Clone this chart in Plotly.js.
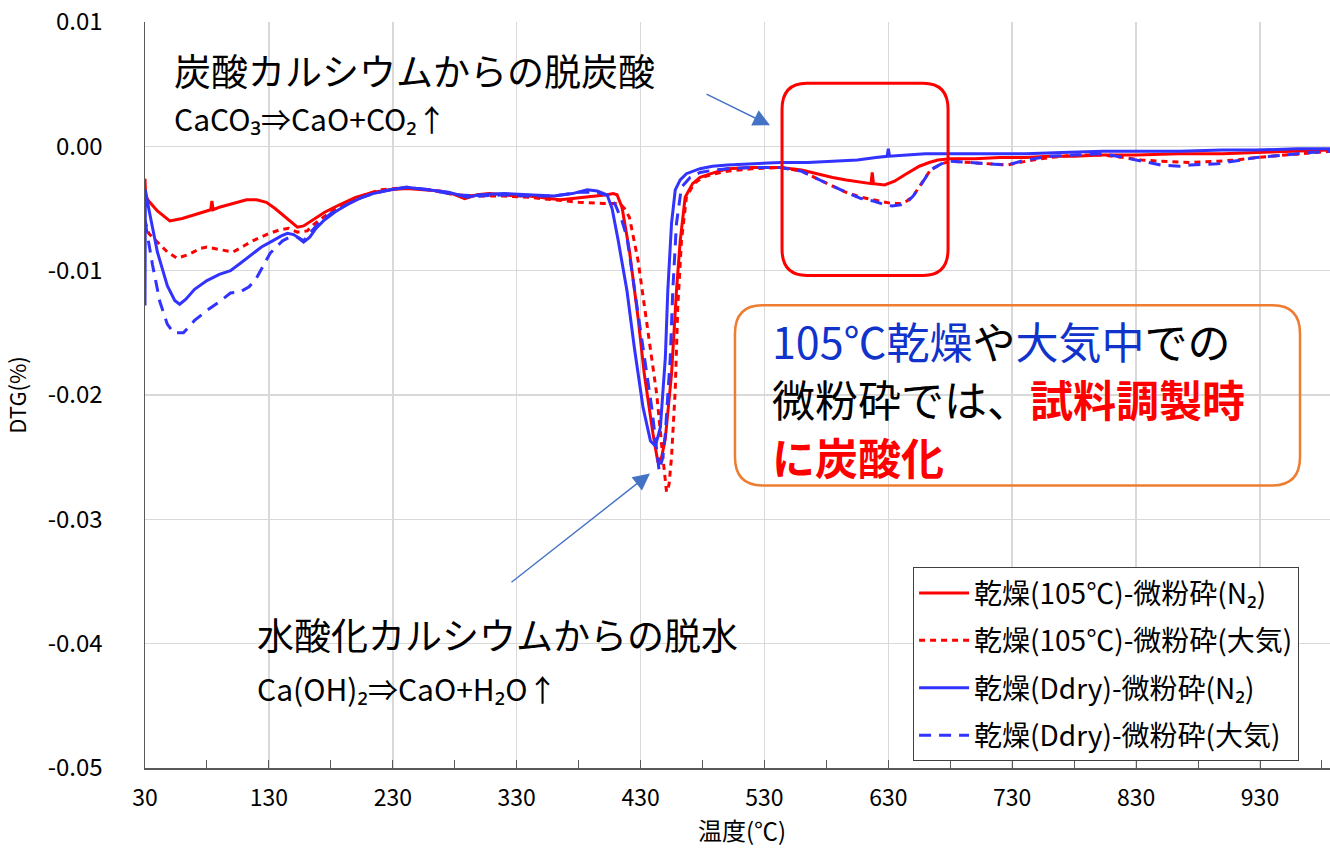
<!DOCTYPE html>
<html>
<head>
<meta charset="utf-8">
<script src="https://cdn.plot.ly/plotly-3.0.1.min.js"></script>
<style>
html,body{margin:0;padding:0;background:#fff;}
#chart{width:1330px;height:850px;}
</style>
</head>
<body>
<div id="chart"></div>
<script>
// ---------- data ----------
const seriesNames = [
  "乾燥(105℃)-微粉砕(N₂)",
  "乾燥(105℃)-微粉砕(大気)",
  "乾燥(Ddry)-微粉砕(N₂)",
  "乾燥(Ddry)-微粉砕(大気)"
];
const xAxisTitle = "温度(℃)";
const yAxisTitle = "DTG(%)";

const temp_red_n2 = [30,30.5,33,40,50,60,70,80,83,84,85,90,100,112,120,128,135,141,148,153,158,166,175,187,200,214,228,241,255,268,278,288,298,308,320,330,340,349,357,365,375,385,395,403,408,411,415,421,428,433,440,444,447,450,455,459,462,466,472,478,490,500,520,543,560,572,585,596,608,616,617,618,627,635,643,650,655,663,670,680,700,720,741,760,780,803,830,865,900,927,960,987];
const dtg_red_n2 = [-0.0026,-0.0040,-0.0044,-0.0052,-0.0060,-0.0058,-0.0055,-0.0052,-0.0051,-0.0044,-0.0051,-0.0049,-0.0046,-0.0043,-0.0043,-0.0045,-0.0050,-0.0055,-0.0061,-0.0065,-0.0064,-0.0059,-0.0053,-0.0047,-0.0041,-0.0037,-0.0035,-0.0034,-0.0035,-0.0036,-0.0038,-0.0042,-0.0039,-0.0038,-0.0039,-0.0040,-0.0040,-0.0041,-0.0042,-0.0043,-0.0042,-0.0041,-0.0040,-0.0039,-0.0038,-0.0039,-0.0049,-0.0084,-0.0138,-0.0183,-0.0231,-0.0254,-0.0250,-0.0235,-0.0183,-0.0116,-0.0076,-0.0041,-0.0030,-0.0025,-0.0021,-0.0018,-0.0017,-0.0017,-0.0019,-0.0022,-0.0025,-0.0027,-0.0029,-0.0030,-0.0021,-0.0030,-0.0031,-0.0028,-0.0023,-0.0019,-0.0016,-0.0013,-0.0011,-0.0010,-0.0010,-0.0009,-0.0009,-0.0008,-0.0008,-0.0007,-0.0007,-0.0006,-0.0006,-0.0005,-0.0004,-0.0003];

const temp_red_air = [30,33,40,48,56,65,75,80,90,101,110,117,128,139,146,153,161,166,174,183,193,205,220,241,260,280,300,320,340,360,380,400,413,417,421,428,435,443,448,451,453,455,458,460,463,467,473,480,490,500,520,543,560,572,585,596,608,618,627,633,640,645,650,655,660,664,673,680,695,710,726,741,760,780,803,820,834,850,874,896,910,927,950,970,987];
const dtg_red_air = [-0.0060,-0.0070,-0.0077,-0.0085,-0.0090,-0.0087,-0.0082,-0.0081,-0.0083,-0.0085,-0.0080,-0.0076,-0.0071,-0.0067,-0.0066,-0.0069,-0.0068,-0.0063,-0.0057,-0.0051,-0.0046,-0.0040,-0.0035,-0.0033,-0.0035,-0.0039,-0.0040,-0.0040,-0.0041,-0.0043,-0.0045,-0.0046,-0.0046,-0.0050,-0.0057,-0.0092,-0.0142,-0.0199,-0.0250,-0.0278,-0.0272,-0.0250,-0.0196,-0.0130,-0.0076,-0.0041,-0.0030,-0.0025,-0.0022,-0.0020,-0.0018,-0.0017,-0.0020,-0.0026,-0.0032,-0.0037,-0.0041,-0.0043,-0.0045,-0.0046,-0.0046,-0.0044,-0.0040,-0.0033,-0.0025,-0.0019,-0.0014,-0.0012,-0.0013,-0.0014,-0.0015,-0.0012,-0.0009,-0.0007,-0.0007,-0.0009,-0.0011,-0.0012,-0.0013,-0.0012,-0.0011,-0.0009,-0.0007,-0.0005,-0.0004];

const temp_blue_n2 = [30,30.3,33,40,48,54,58,63,70,80,90,99,107,115,124,133,140,145,150,153,158,163,168,174,183,193,205,214,228,241,260,275,290,300,320,340,360,375,387,395,403,407,412,419,425,432,438,442,446,450,452,455,458,462,467,478,488,500,520,543,565,587,605,620,629,630,631,645,660,680,710,741,770,803,835,865,900,927,960,987];
const dtg_blue_n2 = [-0.0128,-0.0035,-0.0050,-0.0085,-0.0112,-0.0124,-0.0127,-0.0123,-0.0115,-0.0108,-0.0103,-0.0100,-0.0094,-0.0088,-0.0081,-0.0076,-0.0072,-0.0070,-0.0071,-0.0073,-0.0077,-0.0073,-0.0066,-0.0060,-0.0053,-0.0047,-0.0041,-0.0038,-0.0035,-0.0033,-0.0035,-0.0037,-0.0041,-0.0039,-0.0038,-0.0039,-0.0040,-0.0038,-0.0035,-0.0036,-0.0039,-0.0050,-0.0076,-0.0116,-0.0162,-0.0210,-0.0237,-0.0241,-0.0226,-0.0170,-0.0116,-0.0062,-0.0035,-0.0027,-0.0022,-0.0018,-0.0016,-0.0015,-0.0014,-0.0013,-0.0013,-0.0012,-0.0011,-0.0009,-0.0008,-0.0002,-0.0008,-0.0007,-0.0006,-0.0006,-0.0006,-0.0006,-0.0005,-0.0004,-0.0004,-0.0004,-0.0003,-0.0003,-0.0002,-0.0002];

const temp_blue_air = [30,32,36,42,48,53,61,70,80,90,99,107,114,120,126,131,141,147,153,158,163,170,180,187,200,214,228,241,260,280,300,320,340,360,380,395,405,410,415,419,425,432,439,445,448,450,454,456,459,463,470,478,490,500,520,543,560,572,585,596,608,618,627,633,640,645,650,655,660,664,673,680,695,710,726,741,760,780,803,820,834,850,865,874,896,910,927,950,970,987];
const dtg_blue_air = [-0.0060,-0.0073,-0.0095,-0.0125,-0.0143,-0.0150,-0.0150,-0.0140,-0.0132,-0.0125,-0.0118,-0.0117,-0.0113,-0.0106,-0.0095,-0.0086,-0.0076,-0.0073,-0.0073,-0.0076,-0.0070,-0.0062,-0.0054,-0.0050,-0.0043,-0.0038,-0.0035,-0.0033,-0.0035,-0.0039,-0.0040,-0.0039,-0.0040,-0.0040,-0.0037,-0.0037,-0.0040,-0.0048,-0.0060,-0.0073,-0.0116,-0.0162,-0.0210,-0.0261,-0.0250,-0.0231,-0.0170,-0.0116,-0.0062,-0.0033,-0.0025,-0.0021,-0.0019,-0.0018,-0.0017,-0.0017,-0.0020,-0.0026,-0.0032,-0.0037,-0.0042,-0.0044,-0.0047,-0.0048,-0.0047,-0.0045,-0.0040,-0.0033,-0.0025,-0.0019,-0.0014,-0.0012,-0.0013,-0.0014,-0.0015,-0.0011,-0.0008,-0.0007,-0.0006,-0.0009,-0.0012,-0.0015,-0.0016,-0.0015,-0.0014,-0.0012,-0.0009,-0.0007,-0.0005,-0.0004];

const xTickLabels = ["30","130","230","330","430","530","630","730","830","930"];
const xTickVals = [30,130,230,330,430,530,630,730,830,930];
const yTickVals = [0.01,0,-0.01,-0.02,-0.03,-0.04,-0.05];
const yTickLabels = ["0.01","0.00","-0.01","-0.02","-0.03","-0.04","-0.05"];

// ---------- styling ----------
const FONT = "'Noto Sans CJK JP', 'Noto Sans', sans-serif";
const RED = "#FF0000";
const BLUE = "#3333FF";

function mk(x, y, name, color, dash, group) {
  return {
    type: "scatter", mode: "lines", x: x, y: y, name: name,
    legendgroup: group,
    line: {color: color, width: 3, dash: dash}
  };
}
const traces = [
  mk(temp_red_n2, dtg_red_n2, seriesNames[0], RED, "solid", "g1"),
  mk(temp_red_air, dtg_red_air, seriesNames[1], RED, "6px,5px", "g2"),
  mk(temp_blue_n2, dtg_blue_n2, seriesNames[2], BLUE, "solid", "g3"),
  mk(temp_blue_air, dtg_blue_air, seriesNames[3], BLUE, "12px,8px", "g4")
];

function roundedRect(x0, x1, y0, y1, rx, ry) {
  return "M" + (x0 + rx) + "," + y1 +
    " L" + (x1 - rx) + "," + y1 +
    " Q" + x1 + "," + y1 + " " + x1 + "," + (y1 - ry) +
    " L" + x1 + "," + (y0 + ry) +
    " Q" + x1 + "," + y0 + " " + (x1 - rx) + "," + y0 +
    " L" + (x0 + rx) + "," + y0 +
    " Q" + x0 + "," + y0 + " " + x0 + "," + (y0 + ry) +
    " L" + x0 + "," + (y1 - ry) +
    " Q" + x0 + "," + y1 + " " + (x0 + rx) + "," + y1 + " Z";
}

const layout = {
  width: 1330, height: 850,
  margin: {l: 145, r: 0, t: 22, b: 82},
  paper_bgcolor: "#fff", plot_bgcolor: "#fff",
  font: {family: FONT, color: "#000", size: 22},
  showlegend: true,
  xaxis: {
    range: [30, 986.5],
    tickmode: "array", tickvals: xTickVals, ticktext: xTickLabels,
    showgrid: true, gridcolor: "#D9D9D9", gridwidth: 1.5,
    showline: true, linecolor: "#595959", linewidth: 1.5,
    ticks: "inside", ticklen: 8, tickcolor: "#595959",
    minor: {ticks: "inside", ticklen: 8, tickcolor: "#595959", tick0: 80, dtick: 100, showgrid: false},
    ticklabelstandoff: 9,
    tickfont: {size: 23, family: FONT},
    zeroline: false
  },
  yaxis: {
    range: [-0.05, 0.01],
    tickmode: "array", tickvals: yTickVals, ticktext: yTickLabels,
    showgrid: true, gridcolor: "#D9D9D9", gridwidth: 1.5,
    showline: true, linecolor: "#595959", linewidth: 1.5,
    ticks: "", zeroline: false,
    ticklabelstandoff: 36,
    tickfont: {size: 24, family: FONT},
    title: {text: yAxisTitle, font: {size: 22, family: FONT}, standoff: 16}
  },
  legend: {
    x: 0.648, y: 0.2694, xanchor: "left", yanchor: "top",
    bgcolor: "#fff", bordercolor: "#404040", borderwidth: 1.2,
    font: {size: 28, family: FONT},
    itemwidth: 50, traceorder: "grouped", tracegroupgap: 8
  },
  shapes: [
    {type: "path", xref: "x", yref: "y", layer: "above",
     path: roundedRect(544.2, 678.2, -0.01038, 0.00507, 20, 0.0021),
     line: {color: RED, width: 3}, fillcolor: "rgba(0,0,0,0)"},
    {type: "path", xref: "x", yref: "y", layer: "above",
     path: roundedRect(506.2, 962.3, -0.02727, -0.01279, 22, 0.0023),
     line: {color: "#ED7D31", width: 2.5}, fillcolor: "rgba(0,0,0,0)"}
  ],
  annotations: [
    // x-axis title, placed below the tick labels
    {xref: "paper", yref: "paper", x: 0.504, y: -0.1086, xanchor: "center", yanchor: "bottom", showarrow: false,
     text: xAxisTitle, font: {size: 24, family: FONT, color: "#000"}},
    {xref: "x", yref: "y", x: 51.8, y: 0.00612, xanchor: "left", yanchor: "middle", showarrow: false,
     text: "炭酸カルシウムからの脱炭酸", font: {size: 37, family: FONT, color: "#000"}},
    {xref: "x", yref: "y", x: 51.8, y: 0.00225, xanchor: "left", yanchor: "middle", showarrow: false,
     text: "CaCO₃⇒CaO+CO₂↑", font: {size: 30, family: FONT, color: "#000"}},
    {xref: "x", yref: "y", x: 118.8, y: -0.03926, xanchor: "left", yanchor: "middle", showarrow: false,
     text: "水酸化カルシウムからの脱水", font: {size: 37, family: FONT, color: "#000"}},
    {xref: "x", yref: "y", x: 118.8, y: -0.04360, xanchor: "left", yanchor: "middle", showarrow: false,
     text: "Ca(OH)₂⇒CaO+H₂O↑", font: {size: 30, family: FONT, color: "#000"}},
    {xref: "x", yref: "y", x: 534.5, y: 0.00169, text: "", showarrow: true,
     ax: -65, ay: -32, arrowhead: 2, arrowsize: 2.4, arrowwidth: 1.4, arrowcolor: "#4472C4"},
    {xref: "x", yref: "y", x: 437.6, y: -0.02631, text: "", showarrow: true,
     ax: -140, ay: 110, arrowhead: 2, arrowsize: 2.4, arrowwidth: 1.4, arrowcolor: "#4472C4"},
    {xref: "x", yref: "y", x: 534.5, y: -0.01561, xanchor: "left", yanchor: "middle", showarrow: false,
     text: "<span style='color:#1033CC'>105℃乾燥</span>や<span style='color:#1033CC'>大気中</span>での",
     font: {size: 43, family: FONT, color: "#000"}},
    {xref: "x", yref: "y", x: 534.5, y: -0.02022, xanchor: "left", yanchor: "middle", showarrow: false,
     text: "微粉砕では、<b><span style='color:#FF0000'>試料調製時</span></b>",
     font: {size: 43, family: FONT, color: "#000"}},
    {xref: "x", yref: "y", x: 534.5, y: -0.02489, xanchor: "left", yanchor: "middle", showarrow: false,
     text: "<b>に炭酸化</b>",
     font: {size: 43, family: FONT, color: "#FF0000"}}
  ]
};

Plotly.newPlot("chart", traces, layout, {displayModeBar: false, staticPlot: true});
</script>
</body>
</html>
